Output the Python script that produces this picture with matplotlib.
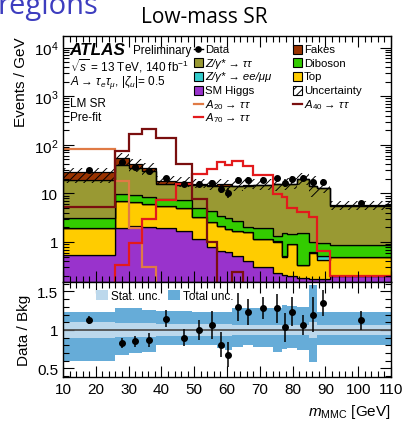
import numpy as np
import matplotlib
matplotlib.use('Agg')
import matplotlib.pyplot as plt
from matplotlib.patches import Patch, Rectangle
from matplotlib.lines import Line2D
from matplotlib.ticker import MultipleLocator, LogLocator, NullFormatter, FuncFormatter

plt.rcParams['font.family'] = ['Liberation Sans', 'DejaVu Sans']
plt.rcParams['mathtext.fontset'] = 'custom'
plt.rcParams['mathtext.rm'] = 'Liberation Sans'
plt.rcParams['mathtext.it'] = 'Liberation Sans:italic'
plt.rcParams['mathtext.bf'] = 'Liberation Sans:bold'
plt.rcParams['hatch.linewidth'] = 0.7

# ---------------- data ----------------
bin_edges = [10, 26, 30, 34, 38.4, 44.5, 49.2, 53.8, 56.9, 59.4, 61.4, 65, 68,
             73.9, 76.7, 78.4, 81.4, 85.1, 87.3, 91.4, 110]

higgs   = [0.54, 1.91, 2.10, 2.0, 1.94, 1.71, 1.15, 0.78, 0.66, 0.63, 0.52, 0.41,
           0.30, 0.23, 0.21, 0.20, 0.18, 0.17, 0.17, 0.20]
top     = [1.43, 5.19, 4.40, 4.0, 3.46, 3.19, 2.05, 1.82, 1.51, 1.24, 1.18, 1.17,
           0.85, 0.79, 0.27, 0.70, 0.15, 0.43, 0.25, 0.28]
zll     = [0.01, 0.01, 0.01, 0.01, 0.01, 0.01, 0.01, 0.01, 0.01, 0.01, 0.01, 0.01,
           0.01, 0.01, 0.04, 0.01, 0.01, 0.01, 0.10, 0.01]
diboson = [1.09, 2.59, 2.69, 2.59, 2.29, 2.29, 1.69, 1.79, 1.32, 1.22, 1.03, 0.41,
           0.75, 0.32, 1.01, 0.54, 1.16, 0.39, 0.43, 0.39]
ztt     = [16.0, 29.3, 24.2, 19.9, 7.9, 7.9, 10.2, 10.0, 10.9, 11.3, 11.3, 12.4,
           12.8, 14.3, 14.1, 14.2, 18.3, 13.0, 11.8, 4.72]
fakes   = [8.1, 14.5, 6.9, 4.9, 2.7, 1.9, 0.7, 0.6, 1.2, 1.0, 0.3, 0.8,
           0.3, 0.2, 0.2, 0.1, 0.2, 0.1, 0.1, 0.05]

data     = [30.7, 44.4, 34.3, 29.1, 21.0, 15.3, 15.8, 16.0, 12.6, 10.4, 18.7, 18.8,
            19.3, 20.3, 16.4, 19.5, 21.2, 16.9, 17.4, 6.36]
data_err = [1.4, 3.7, 3.0, 3.0, 2.0, 1.9, 2.0, 2.7, 2.5, 2.5, 2.6, 2.6,
            2.1, 3.0, 3.0, 3.0, 2.6, 3.2, 2.2, 0.68]

sig_a20 = [81, 18.3, 1.97, 0.30, 0, 0, 0, 0, 0, 0, 0, 0, 0, 0, 0, 0, 0, 0, 0, 0]
sig_a40 = [5.2, 75.6, 165, 211, 136, 40, 7.7, 0.98, 0, 0, 0.24, 0, 0, 0, 0, 0, 0, 0, 0, 0]
sig_a70 = [0, 0.33, 0.95, 2.97, 7.4, 15.6, 24.5, 31.8, 43.6, 38.4, 47, 37, 24,
           9.7, 8.5, 4.9, 4.1, 3.2, 0.66, 0.197]

# relative uncertainties (ratio units)
tot_up = [1.24, 1.28, 1.28, 1.26, 1.25, 1.25, 1.24, 1.23, 1.24, 1.24, 1.28, 1.29,
          1.29, 1.29, 1.32, 1.31, 1.30, 1.58, 1.24, 1.24]
tot_dn = [0.60, 0.675, 0.70, 0.72, 0.81, 0.80, 0.81, 0.80, 0.76, 0.74, 0.78, 0.80,
          0.78, 0.71, 0.75, 0.77, 0.74, 0.59, 0.81, 0.81]
stat_rel = [0.10, 0.09, 0.09, 0.09, 0.08, 0.08, 0.08, 0.08, 0.08, 0.08, 0.07, 0.07,
            0.06, 0.07, 0.07, 0.06, 0.06, 0.10, 0.06, 0.06]

legend_col1 = ['Data', 'Z/γ* → ττ', 'Z/γ* → ee/μμ', 'SM Higgs',
               r'$A_{20}\rightarrow\,\tau\,\tau$', r'$A_{70}\rightarrow\,\tau\,\tau$']
legend_col2 = ['Fakes', 'Diboson', 'Top', 'Uncertainty', r'$A_{40}\rightarrow\,\tau\,\tau$']
legend_col1_italic = [False, True, True, False, False, False]

# ---------------- style ----------------
c_higgs = '#9933cc'
c_top = '#ffcc00'
c_zll = '#33cccc'
c_dib = '#33cc00'
c_ztt = '#999933'
c_fakes = '#993300'
c_a20 = '#e07a45'
c_a40 = '#7a0f0f'
c_a70 = '#e31a1c'
c_tot = '#66acd8'
c_stat = '#bcd8ec'

edges = np.array(bin_edges)
centers = 0.5 * (edges[1:] + edges[:-1])
comps = [(higgs, c_higgs), (top, c_top), (zll, c_zll), (diboson, c_dib),
         (ztt, c_ztt), (fakes, c_fakes)]

fig = plt.figure(figsize=(4.07, 4.27), dpi=100)
ax = fig.add_axes([0.1548, 0.3372, 0.8059, 0.5754])
rax = fig.add_axes([0.1548, 0.1136, 0.8059, 0.2236])

base = np.full(len(centers), 1e-3)
for vals, col in comps:
    topv = base + np.array(vals)
    ax.stairs(topv, edges, baseline=base, fill=True, facecolor=col,
              edgecolor='black', lw=0.9)
    base = topv
total = base - 1e-3

up = total * np.array(tot_up)
dn = total * np.array(tot_dn)
ax.stairs(up, edges, baseline=dn, fill=True, facecolor='none', hatch='////',
          edgecolor='black', lw=0)

ax.stairs(sig_a20, edges, baseline=None, color=c_a20, lw=1.6)
ax.stairs(sig_a70, edges, baseline=None, color=c_a70, lw=1.6)
ax.stairs(sig_a40, edges, baseline=None, color=c_a40, lw=1.6)

ax.errorbar(centers, data, yerr=data_err, fmt='o', color='black', ms=4,
            elinewidth=1.1, capsize=0, zorder=5)

ax.set_yscale('log')
ax.set_xlim(10, 110)
ax.set_ylim(0.15, 1.71e4)

def yfmt(v, pos):
    if abs(v - 1) < 1e-9:
        return '1'
    if abs(v - 10) < 1e-9:
        return '10'
    e = int(round(np.log10(v)))
    return r'$10^{%d}$' % e
ax.yaxis.set_major_locator(LogLocator(base=10, numticks=10))
ax.yaxis.set_major_formatter(FuncFormatter(yfmt))
ax.yaxis.set_minor_locator(LogLocator(base=10, subs=np.arange(2, 10), numticks=20))
ax.yaxis.set_minor_formatter(NullFormatter())
ax.xaxis.set_major_locator(MultipleLocator(10))
ax.xaxis.set_minor_locator(MultipleLocator(2))
ax.tick_params(axis='x', labelbottom=False)

for a in (ax, rax):
    a.tick_params(which='both', direction='in', top=True, right=True, labelsize=11)
    a.tick_params(which='major', length=8, width=0.8)
    a.tick_params(which='minor', length=4, width=0.8)
    for s in a.spines.values():
        s.set_linewidth(1.0)

ax.set_ylabel('Events / GeV', fontsize=11, loc='top')

# ---- legend (drawn manually for tight row spacing) ----
rows = [0.948, 0.8925, 0.837, 0.7815, 0.726, 0.6705]
col_x = [0.399, 0.701]
bw, bh = 0.0274, 0.0366
lfs = 8.2

def box(x, y, fc, hatch=None):
    ax.add_patch(Rectangle((x, y - bh / 2), bw, bh, transform=ax.transAxes,
                           facecolor=fc, edgecolor='black', lw=0.8, hatch=hatch,
                           clip_on=False, zorder=6))

def line(x, y, c):
    ax.add_line(Line2D([x, x + bw], [y, y], transform=ax.transAxes, color=c,
                       lw=1.6, clip_on=False, zorder=6))

col1_keys = [('data', None), ('box', c_ztt), ('box', c_zll), ('box', c_higgs),
             ('line', c_a20), ('line', c_a70)]
col2_keys = [('box', c_fakes), ('box', c_dib), ('box', c_top), ('hatch', None),
             ('line', c_a40)]
for cx, keys, labs, itals in ((col_x[0], col1_keys, legend_col1, legend_col1_italic),
                              (col_x[1], col2_keys, legend_col2, [False] * 5)):
    for (kind, c), lab, y, it in zip(keys, labs, rows, itals):
        if kind == 'data':
            ax.add_line(Line2D([cx, cx + bw], [y, y], transform=ax.transAxes,
                               color='black', lw=1.0, clip_on=False, zorder=6))
            ax.add_line(Line2D([cx + bw / 2], [y], transform=ax.transAxes,
                               color='black', marker='o', ms=3.8, lw=0,
                               clip_on=False, zorder=6))
        elif kind == 'box':
            box(cx, y, c)
        elif kind == 'hatch':
            box(cx, y, 'white', hatch='////')
        else:
            line(cx, y, c)
        ax.text(cx + bw + 0.006, y, lab, transform=ax.transAxes, fontsize=lfs,
                va='center', ha='left', zorder=6,
                fontstyle='italic' if it else 'normal')

# ATLAS text
tx = 0.02
ax.text(tx, 0.948, 'ATLAS', transform=ax.transAxes, fontsize=12.3,
        fontweight='bold', fontstyle='italic', va='center')
ax.text(0.212, 0.946, 'Preliminary', transform=ax.transAxes, fontsize=8.4,
        va='center')
ax.text(tx, 0.882, r'$\sqrt{s}$ = 13 TeV, 140 fb$^{-1}$', transform=ax.transAxes,
        fontsize=8.5, va='center')
ax.text(tx, 0.815, r'$A\rightarrow\,\tau_{e}\tau_{\mu},\,|\zeta_{u}|$= 0.5',
        transform=ax.transAxes, fontsize=8.5, va='center')
ax.text(tx, 0.728, 'LM SR', transform=ax.transAxes, fontsize=8.5, va='center')
ax.text(tx, 0.670, 'Pre-fit', transform=ax.transAxes, fontsize=8.5, va='center')

# ---------------- ratio ----------------
ratio = np.array(data) / total
ratio_err = np.array(data_err) / total
srel = np.array(stat_rel)
rax.stairs(np.array(tot_up), edges, baseline=np.array(tot_dn), fill=True,
           facecolor=c_tot, edgecolor='none', lw=0)
rax.stairs(1 + srel, edges, baseline=1 - srel, fill=True,
           facecolor=c_stat, edgecolor='none', lw=0)
rax.axhline(1.0, color='#505050', lw=1.3)
rax.errorbar(centers, ratio, yerr=ratio_err, fmt='o', color='black', ms=4,
             elinewidth=1.1, capsize=0, zorder=5)
rax.set_xlim(10, 110)
rax.set_ylim(0.383, 1.623)
rax.yaxis.set_major_locator(plt.FixedLocator([0.5, 1.0, 1.5]))
rax.yaxis.set_major_formatter(FuncFormatter(lambda v, p: ('%g' % v)))
rax.yaxis.set_minor_locator(MultipleLocator(0.1))
rax.xaxis.set_major_locator(MultipleLocator(10))
rax.xaxis.set_minor_locator(MultipleLocator(2))
rax.set_ylabel('Data / Bkg', fontsize=11)
rax.set_xlabel(r'$m_{\mathrm{MMC}}$ [GeV]', fontsize=11, loc='right')
rax.legend([Patch(facecolor=c_stat), Patch(facecolor=c_tot)],
           ['Stat. unc.', 'Total unc.'], ncol=2, loc='upper left',
           bbox_to_anchor=(0.08, 0.99), frameon=False, fontsize=8.5,
           handlelength=1.0, handleheight=0.9, handletextpad=0.25,
           columnspacing=0.6, borderpad=0.1)

fig.align_ylabels([ax, rax])

# titles
fig.text(0.503, 0.958, 'Low-mass SR', ha='center', va='center', fontsize=15,
         family=['Open Sans', 'DejaVu Sans'])
fig.text(-0.005, 0.967, 'regions', ha='left', va='baseline', fontsize=21,
         color='#3d3dbf', family=['Open Sans', 'DejaVu Sans'])

fig.savefig('out.png', dpi=100)
